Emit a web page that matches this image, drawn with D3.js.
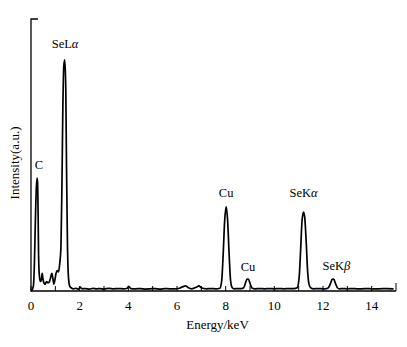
<!DOCTYPE html>
<html>
<head>
<meta charset="utf-8">
<script src="https://cdn.jsdelivr.net/npm/d3@7"></script>
<style>
  body { margin: 0; background: #fff; }
  svg text { font-family: "Liberation Serif", "Times New Roman", serif; fill: #000; }
</style>
</head>
<body>
<svg id="chart" width="407" height="347"></svg>
<script>
// EDS spectrum: energy (keV) and intensity (a.u., 0-100)
const energy = [
  0.00, 0.05, 0.10, 0.14, 0.18, 0.22, 0.25, 0.27, 0.29, 0.31, 0.34, 0.38,
  0.42, 0.46, 0.49, 0.53, 0.58, 0.64, 0.70, 0.76, 0.82, 0.86, 0.90, 0.94,
  0.98, 1.03, 1.08, 1.13, 1.18, 1.23, 1.27, 1.31, 1.35, 1.39, 1.43, 1.46,
  1.50, 1.54, 1.59, 1.65, 1.75, 1.85, 1.95, 2.02, 2.10, 2.25, 2.40, 2.55,
  2.70, 2.85, 3.00, 3.20, 3.40, 3.60, 3.80, 3.95, 4.02, 4.10, 4.30, 4.50,
  4.70, 4.90, 5.10, 5.30, 5.50, 5.70, 5.90, 6.10, 6.25, 6.35, 6.45, 6.60,
  6.80, 6.90, 7.00, 7.20, 7.40, 7.60, 7.76, 7.84, 7.90, 7.96, 8.02, 8.08,
  8.14, 8.20, 8.27, 8.35, 8.50, 8.65, 8.74, 8.81, 8.88, 8.94, 9.01, 9.09,
  9.20, 9.40, 9.60, 9.80, 10.00, 10.20, 10.40, 10.60, 10.80, 10.94, 11.02,
  11.08, 11.14, 11.20, 11.25, 11.31, 11.37, 11.44, 11.52, 11.60, 11.80,
  12.00, 12.15, 12.23, 12.31, 12.38, 12.44, 12.51, 12.59, 12.68, 12.80,
  13.00, 13.20, 13.40, 13.60, 13.80, 14.00, 14.30, 14.60, 14.90
];
const intensity = [
  0.0, 0.5, 2.0, 10.0, 26.0, 38.0, 41.5, 40.0, 30.0, 14.0, 6.0, 3.5,
  4.0, 6.5, 4.5, 3.0, 2.5, 3.5, 3.0, 3.5, 5.5, 6.5, 4.5, 2.5,
  4.0, 6.5, 7.5, 7.0, 10.0, 16.0, 38.0, 68.0, 83.0, 85.0, 74.0, 45.0,
  16.0, 5.0, 1.8, 1.2, 0.8, 1.0, 0.7, 1.4, 0.8, 0.9, 0.7, 1.0,
  0.8, 0.9, 0.7, 1.0, 0.8, 0.9, 0.8, 1.0, 1.7, 0.9, 0.8, 0.9,
  0.7, 0.8, 0.9, 0.7, 0.9, 0.8, 0.8, 1.0, 1.6, 1.9, 1.3, 0.8,
  1.4, 1.9, 1.2, 0.8, 0.9, 0.8, 1.0, 4.0, 14.0, 26.0, 31.0, 26.0,
  14.0, 4.0, 1.2, 0.8, 0.9, 0.9, 1.2, 2.8, 4.4, 4.3, 2.5, 1.0,
  0.8, 0.9, 0.8, 0.9, 0.8, 0.9, 0.8, 0.9, 0.9, 1.2, 5.0,
  15.0, 26.0, 29.0, 27.0, 18.0, 7.0, 2.0, 1.0, 0.8, 0.9,
  0.8, 0.9, 1.3, 2.8, 4.3, 4.4, 2.8, 1.2, 0.8, 0.9,
  0.8, 0.9, 0.8, 0.8, 0.9, 0.8, 0.8, 0.9, 0.8
];

// peak labels
const peakNames = ["C", "SeL", "Cu", "Cu", "SeK", "SeK"];
const peakGreek = ["", "α", "", "", "α", "β"];
const peakEnergy = [0.33, 1.4, 8.02, 8.92, 11.2, 12.55];
const peakLabelLevel = [45, 89.5, 34.5, 7.3, 34.5, 7.8];

const xTicks = d3.range(0, 16, 1);
const xLabels = [0, 2, 4, 6, 8, 10, 12, 14];

const svg = d3.select("#chart");
const x = d3.scaleLinear().domain([0, 15]).range([31, 396]);
const y = d3.scaleLinear().domain([0, 100]).range([291, 19]);

// axes frame
svg.append("path")
    .attr("d", `M${x(0) + 7},${y(100)}H${x(0)}V${y(0)}H${x(15)}`)
    .attr("fill", "none")
    .attr("stroke", "#000")
    .attr("stroke-width", 1.3);

// inward ticks on x axis
svg.append("g").selectAll("line")
    .data(xTicks)
    .join("line")
    .attr("x1", d => x(d)).attr("x2", d => x(d))
    .attr("y1", y(0))
    .attr("y2", d => d === 15 ? y(0) - 8 : y(0) - 5)
    .attr("stroke", "#000")
    .attr("stroke-width", 1);

svg.append("g").selectAll("text")
    .data(xLabels)
    .join("text")
    .attr("x", d => x(d))
    .attr("y", 310)
    .attr("text-anchor", "middle")
    .style("font-size", "13px")
    .text(d => d);

svg.append("text")
    .attr("x", (x(0) + x(15)) / 2 + 4)
    .attr("y", 329)
    .attr("text-anchor", "middle")
    .style("font-size", "13px")
    .text("Energy/keV");

svg.append("text")
    .attr("transform", `translate(19,${163}) rotate(-90)`)
    .attr("text-anchor", "middle")
    .style("font-size", "13px")
    .text("Intensity(a.u.)");

// spectrum
const points = energy.map((e, i) => [e, intensity[i]]);
const line = d3.line()
    .x(d => x(d[0]))
    .y(d => y(d[1]))
    .curve(d3.curveMonotoneX);

svg.append("path")
    .datum(points)
    .attr("d", line)
    .attr("fill", "none")
    .attr("stroke", "#000")
    .attr("stroke-width", 1.7)
    .attr("stroke-linejoin", "round");

// peak labels
const labels = svg.append("g").selectAll("text")
    .data(peakNames.map((n, i) => ({ n, g: peakGreek[i], e: peakEnergy[i], v: peakLabelLevel[i] })))
    .join("text")
    .attr("x", d => x(d.e))
    .attr("y", d => y(d.v))
    .attr("text-anchor", "middle")
    .style("font-size", "12.5px");
labels.append("tspan").text(d => d.n);
labels.append("tspan").style("font-style", "italic").text(d => d.g);
</script>
</body>
</html>
